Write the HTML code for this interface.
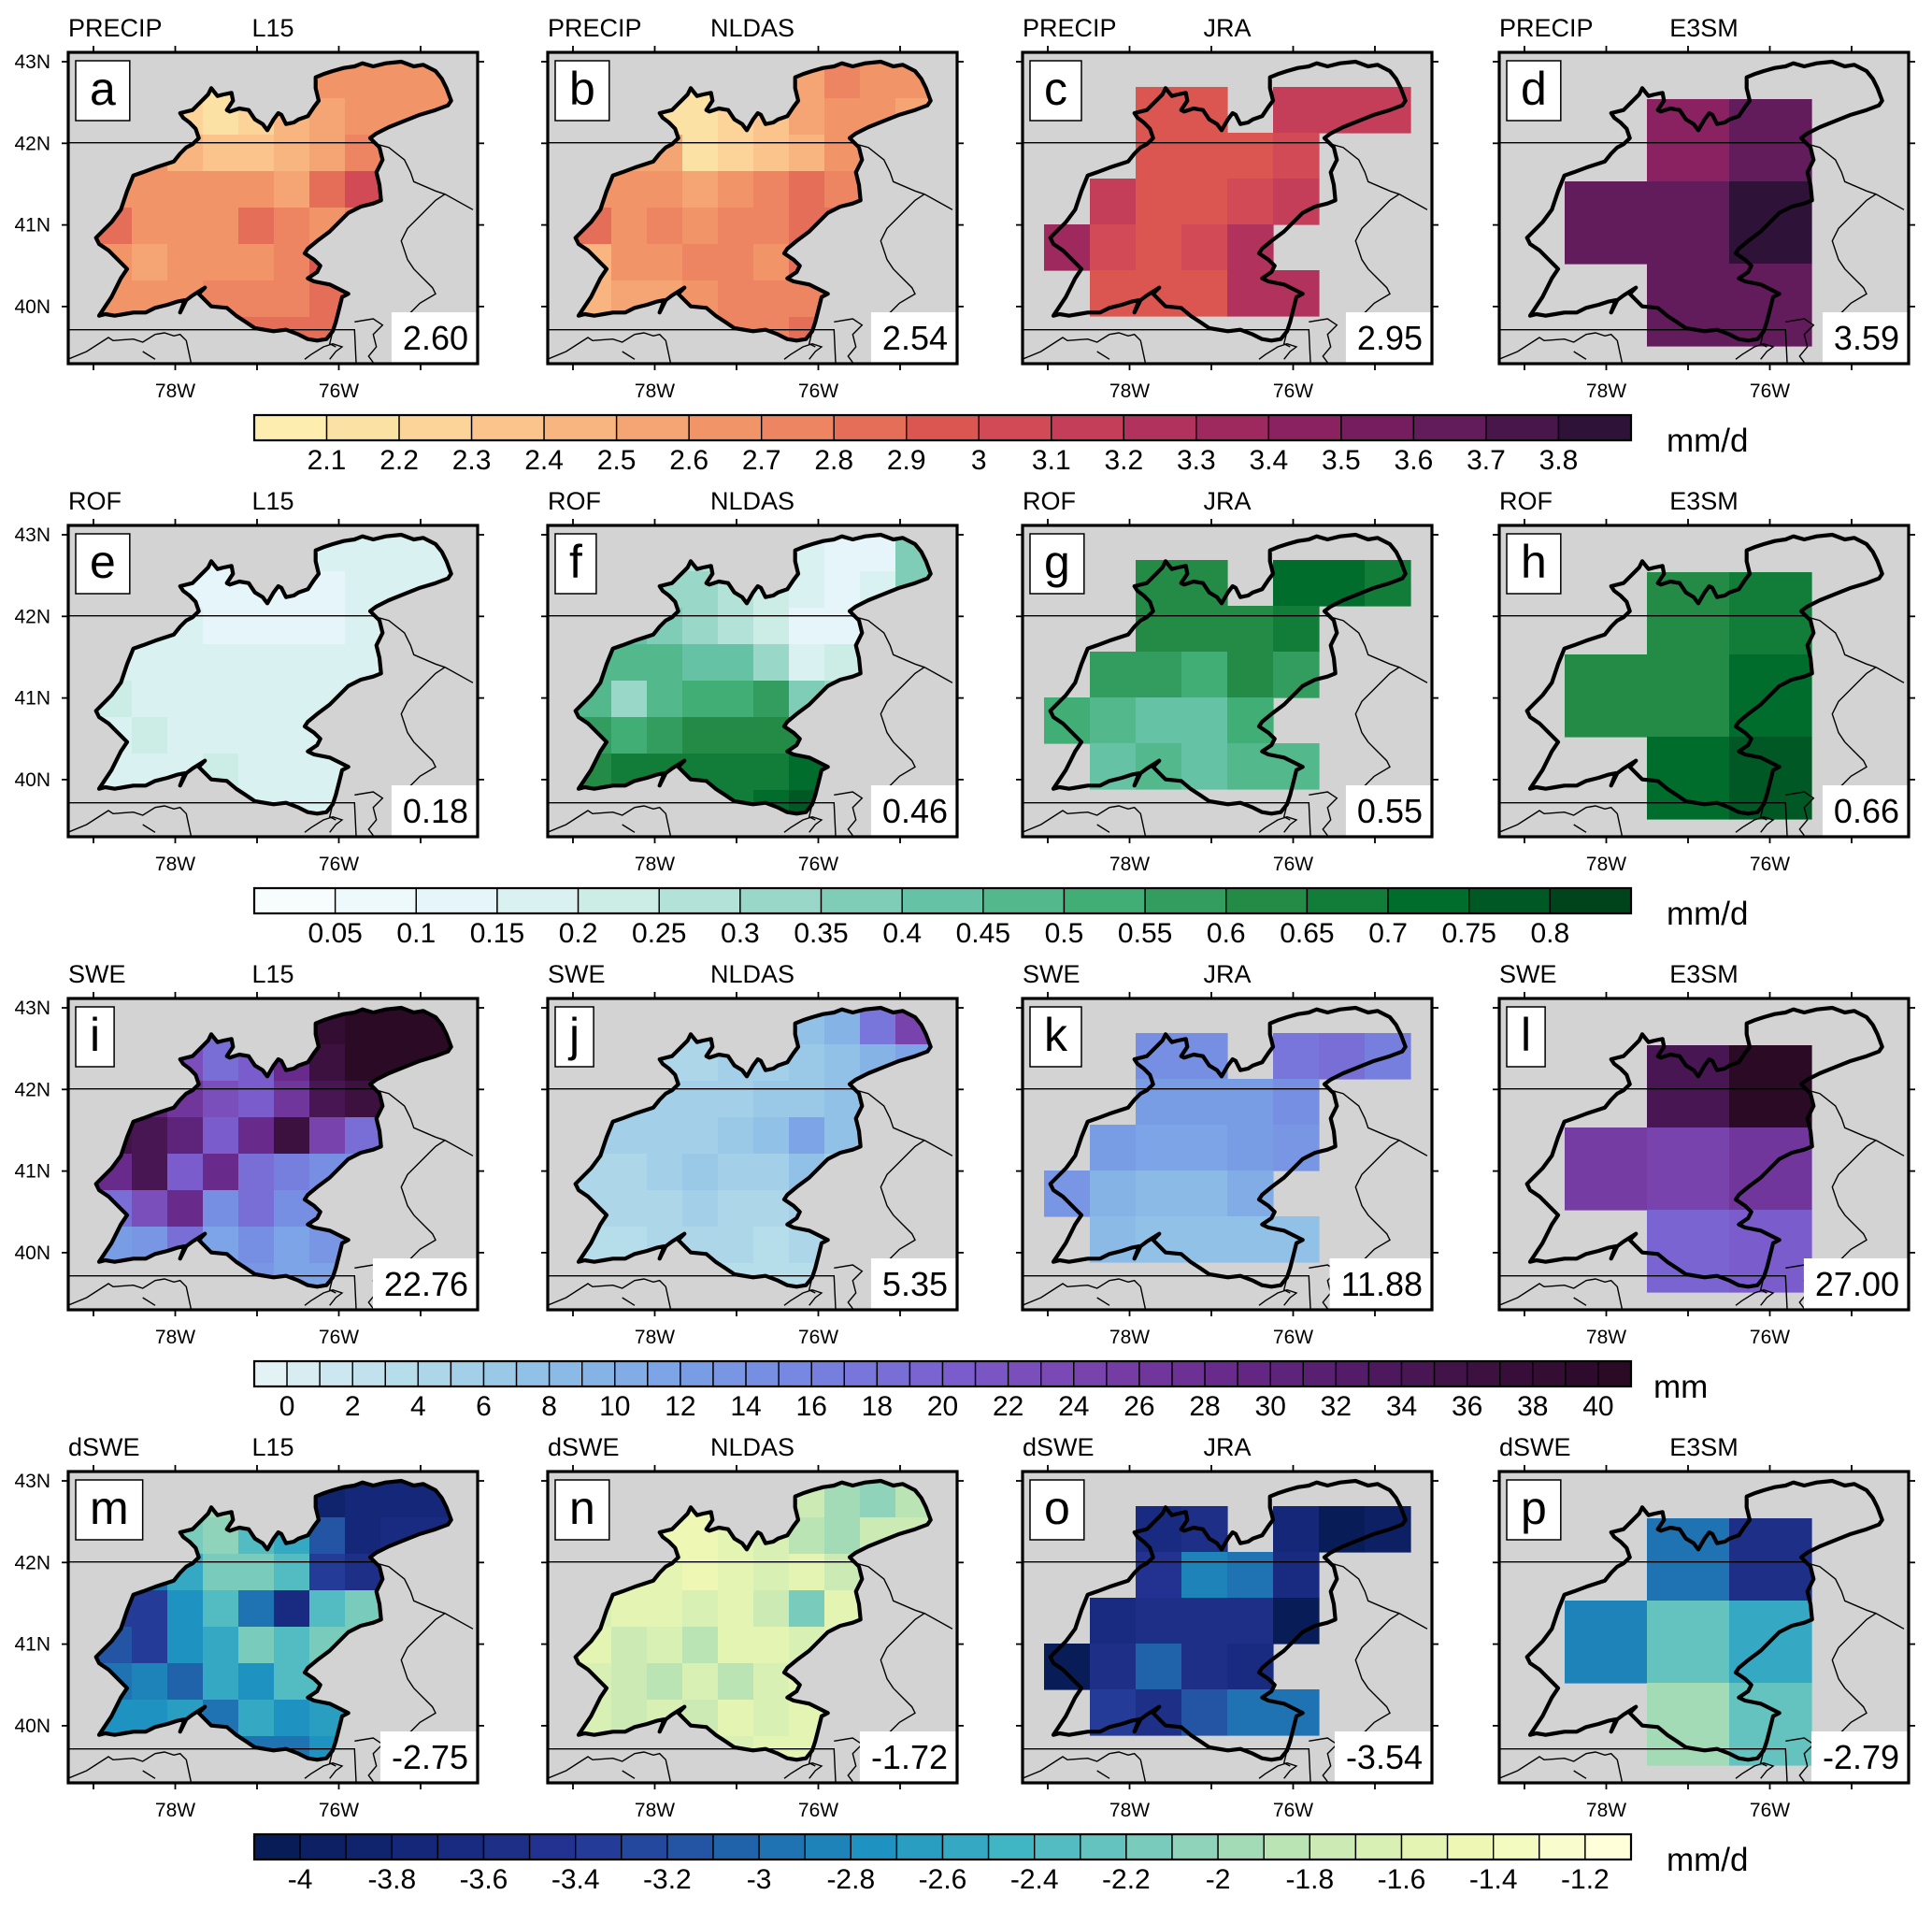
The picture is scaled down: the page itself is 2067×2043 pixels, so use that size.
<!DOCTYPE html>
<html><head><meta charset="utf-8">
<style>
html,body{margin:0;padding:0;background:#fff;}
svg{display:block;font-family:"Liberation Sans",sans-serif;}
</style></head>
<body>
<svg id="chart" width="2067" height="2043" viewBox="0 0 2067 2043" xmlns="http://www.w3.org/2000/svg">
<defs id="defs"></defs>
</svg>
<script>
// ---------- data ----------
const rowVars = ['PRECIP','ROF','SWE','dSWE'];
const panelSources = ['L15','NLDAS','JRA','E3SM'];
const panelLetters = ['a','b','c','d','e','f','g','h','i','j','k','l','m','n','o','p'];
const meanValues = ['2.60','2.54','2.95','3.59','0.18','0.46','0.55','0.66','22.76','5.35','11.88','27.00','-2.75','-1.72','-3.54','-2.79'];
const units = ['mm/d','mm/d','mm','mm/d'];

const precipTicks = [2.1,2.2,2.3,2.4,2.5,2.6,2.7,2.8,2.9,3.0,3.1,3.2,3.3,3.4,3.5,3.6,3.7,3.8];
const precipTickLabels = ['2.1','2.2','2.3','2.4','2.5','2.6','2.7','2.8','2.9','3','3.1','3.2','3.3','3.4','3.5','3.6','3.7','3.8'];
const rofTicks = [0.05,0.1,0.15,0.2,0.25,0.3,0.35,0.4,0.45,0.5,0.55,0.6,0.65,0.7,0.75,0.8];
const rofTickLabels = ['0.05','0.1','0.15','0.2','0.25','0.3','0.35','0.4','0.45','0.5','0.55','0.6','0.65','0.7','0.75','0.8'];
const sweTicks = [0,2,4,6,8,10,12,14,16,18,20,22,24,26,28,30,32,34,36,38,40];
const sweTickLabels = ['0','2','4','6','8','10','12','14','16','18','20','22','24','26','28','30','32','34','36','38','40'];
const dsweTicks = [-4,-3.8,-3.6,-3.4,-3.2,-3,-2.8,-2.6,-2.4,-2.2,-2,-1.8,-1.6,-1.4,-1.2];
const dsweTickLabels = ['-4','-3.8','-3.6','-3.4','-3.2','-3','-2.8','-2.6','-2.4','-2.2','-2','-1.8','-1.6','-1.4','-1.2'];

const precipL15 = [
[2.6,2.6,2.2,2.1,2.2,2.5,2.6,2.6,2.6,2.6],
[2.6,2.6,2.2,2.1,2.2,2.4,2.5,2.6,2.6,2.6],
[2.6,2.6,2.4,2.3,2.3,2.4,2.5,2.7,2.7,2.6],
[2.6,2.6,2.6,2.6,2.6,2.5,2.8,3.0,2.7,2.6],
[2.8,2.6,2.6,2.6,2.8,2.7,2.6,2.7,2.6,2.6],
[2.6,2.5,2.6,2.6,2.6,2.7,2.9,2.8,2.7,2.6],
[2.6,2.6,2.6,2.7,2.7,2.7,2.8,2.7,2.7,2.6],
[2.6,2.6,2.7,2.7,2.8,2.8,2.8,2.8,2.6,2.6]];
const precipNLDAS = [
[2.5,2.5,2.2,2.1,2.2,2.4,2.5,2.7,2.6,2.6],
[2.5,2.5,2.1,2.1,2.2,2.3,2.5,2.6,2.6,2.5],
[2.5,2.5,2.5,2.1,2.2,2.3,2.4,2.6,2.6,2.6],
[2.6,2.6,2.6,2.5,2.6,2.7,2.8,2.7,2.6,2.6],
[2.8,2.6,2.7,2.6,2.7,2.7,2.8,2.8,2.6,2.6],
[2.4,2.6,2.6,2.7,2.7,2.6,2.8,2.7,2.6,2.6],
[2.4,2.5,2.5,2.6,2.7,2.7,2.7,2.7,2.6,2.6],
[2.5,2.5,2.6,2.7,2.7,2.7,2.8,2.8,2.6,2.6]];
const precipJRA = [
[null,null,2.9,2.9,null,3.1,3.1,3.1],
[null,null,2.9,2.9,2.9,3.0,null,null],
[null,3.1,2.9,2.9,3.0,3.1,null,null],
[3.3,3.0,2.9,3.0,3.2,null,null,null],
[null,2.9,2.9,2.9,3.2,3.2,null,null]];
const precipE3SM = [
[null,3.4,3.6],
[3.6,3.65,3.8],
[null,3.6,3.65]];

const rofL15 = [
[.1,.1,.15,.1,.1,.1,.15,.15,.15,.15],
[.15,.15,.1,.1,.1,.1,.1,.15,.15,.15],
[.15,.15,.15,.1,.1,.1,.1,.15,.15,.15],
[.15,.15,.15,.15,.15,.15,.15,.15,.15,.15],
[.2,.15,.15,.15,.15,.15,.15,.15,.15,.15],
[.15,.2,.15,.15,.15,.15,.15,.15,.15,.15],
[.15,.15,.15,.2,.15,.15,.15,.15,.15,.15],
[.15,.15,.15,.15,.15,.15,.15,.15,.15,.15]];
const rofNLDAS = [
[.3,.3,.3,.25,.2,.25,.15,.1,.1,.35],
[.3,.3,.3,.3,.25,.2,.15,.1,.15,.35],
[.4,.4,.35,.3,.25,.2,.1,.1,.2,.3],
[.45,.45,.45,.4,.4,.3,.15,.2,.3,.3],
[.45,.3,.45,.5,.5,.55,.35,.3,.3,.3],
[.55,.5,.55,.6,.6,.6,.6,.5,.5,.5],
[.6,.65,.65,.65,.65,.65,.7,.75,.7,.7],
[.65,.65,.65,.65,.65,.7,.75,.8,.8,.8]];
const rofJRA = [
[null,null,.6,.6,null,.7,.7,.65],
[null,null,.6,.6,.6,.65,null,null],
[null,.55,.55,.5,.6,.55,null,null],
[.5,.45,.4,.4,.5,null,null,null],
[null,.4,.45,.4,.45,.45,null,null]];
const rofE3SM = [
[null,.6,.65],
[.6,.6,.7],
[null,.7,.75]];

const sweL15 = [
[20,20,25,18,20,30,38,40,40,40],
[25,25,22,18,20,28,36,40,40,40],
[30,30,26,22,20,26,34,36,30,30],
[35,34,30,20,28,36,24,18,18,18],
[28,34,20,28,18,16,14,14,14,14],
[18,22,28,14,18,14,14,14,14,14],
[12,13,18,11,14,11,13,13,13,13],
[11,11,11,11,13,11,11,11,11,11]];
const sweNLDAS = [
[4,4,4,4,4,5,7,9,17,24],
[4,4,4,4,5,5,6,7,9,11],
[5,5,5,5,5,6,6,7,7,7],
[5,5,5,5,6,7,11,7,7,7],
[4,4,5,6,5,5,7,5,5,5],
[4,4,4,5,4,4,5,5,5,5],
[3,3,4,4,4,3,4,4,4,4],
[3,3,3,3,3,3,3,3,3,3]];
const sweJRA = [
[null,null,14,14,null,17,18,16],
[null,null,12,12,12,14,null,null],
[null,12,11,11,12,13,null,null],
[13,9,8,8,10,null,null,null],
[null,8,7,7,7,7,null,null]];
const sweE3SM = [
[null,34,40],
[25,24,26],
[null,19,20]];

const dsweL15 = [
[-2.2,-2.2,-2.1,-2.0,-2.4,-2.8,-3.9,-3.8,-3.8,-3.8],
[-2.6,-2.6,-2.2,-2.1,-2.4,-2.6,-3.2,-3.8,-3.7,-3.7],
[-3.0,-3.0,-2.6,-2.2,-2.2,-2.4,-3.4,-3.6,-3.2,-3.2],
[-3.4,-3.4,-2.8,-2.4,-3.0,-3.7,-2.4,-2.2,-2.2,-2.2],
[-3.2,-3.4,-2.8,-2.6,-2.2,-2.4,-2.2,-2.2,-2.2,-2.2],
[-3.0,-2.9,-3.1,-2.6,-2.8,-2.4,-2.4,-2.4,-2.4,-2.4],
[-2.8,-2.8,-2.7,-3.0,-2.6,-2.8,-2.7,-2.7,-2.7,-2.7],
[-3.0,-2.8,-2.8,-2.9,-3.0,-3.0,-2.8,-2.8,-2.8,-2.8]];
const dsweNLDAS = [
[-1.6,-1.6,-1.5,-1.5,-1.5,-1.6,-1.8,-2.0,-2.1,-1.9],
[-1.6,-1.6,-1.5,-1.5,-1.6,-1.7,-1.9,-2.0,-1.8,-1.8],
[-1.6,-1.6,-1.6,-1.5,-1.6,-1.7,-1.6,-1.8,-1.8,-1.8],
[-1.7,-1.6,-1.6,-1.7,-1.6,-1.8,-2.2,-1.6,-1.6,-1.6],
[-1.6,-1.8,-1.7,-1.9,-1.6,-1.6,-1.7,-1.6,-1.6,-1.6],
[-1.7,-1.8,-1.9,-1.7,-1.9,-1.7,-1.6,-1.6,-1.6,-1.6],
[-1.7,-1.8,-1.7,-1.8,-1.6,-1.7,-1.6,-1.6,-1.6,-1.6],
[-1.7,-1.7,-1.6,-1.7,-1.7,-1.6,-1.6,-1.6,-1.6,-1.6]];
const dsweJRA = [
[null,null,-3.7,-3.6,null,-3.8,-4.1,-4.0],
[null,null,-3.5,-2.9,-3.0,-3.7,null,null],
[null,-3.7,-3.6,-3.6,-3.6,-4.1,null,null],
[-4.1,-3.6,-3.1,-3.6,-3.7,null,null,null],
[null,-3.4,-3.6,-3.2,-3.0,-3.0,null,null]];
const dsweE3SM = [
[null,-3.0,-3.6],
[-2.9,-2.3,-2.6],
[null,-2.0,-2.3]];

// ---------- layout / style ----------
const grids = [
  [precipL15, precipNLDAS, precipJRA, precipE3SM],
  [rofL15, rofNLDAS, rofJRA, rofE3SM],
  [sweL15, sweNLDAS, sweJRA, sweE3SM],
  [dsweL15, dsweNLDAS, dsweJRA, dsweE3SM]];
const rowTicks = [precipTicks, rofTicks, sweTicks, dsweTicks];
const rowTickLabels = [precipTickLabels, rofTickLabels, sweTickLabels, dsweTickLabels];
const scales = [
  {first:2.1, step:0.1, nb:19},
  {first:0.05, step:0.05, nb:17},
  {first:0, step:1, nb:42},
  {first:-4, step:0.1, nb:30}];
const palettes = [
  ['#fdeeb0','#fcd69c','#f9bb84','#f49f6e','#ec8160','#dc5651','#c8405a','#a62c5e','#821f62','#5e1a5a','#2e1238'],
  ['#f7fcfd','#e5f5f9','#ccece6','#99d8c9','#66c2a4','#41ae76','#238b45','#006d2c','#00441b'],
  ['#e3f2f5','#b5dcea','#8fc0e6','#7aa2e6','#7685e0','#7a5fd0','#7a45b0','#6a2c8e','#551c6a','#3c1040','#2a0a25'],
  ['#081d58','#15287a','#253494','#225ea8','#1d91c0','#41b6c4','#7fcdbb','#c7e9b4','#edf8b1','#ffffd9']];

const colLeft = [73, 586, 1094, 1604];
const rowTop = [56, 562, 1068, 1574];
const FW = 438, FH = 333;
const CB_X = 272, CB_W = 1473, CB_H = 27;
const cbTop = [444, 950, 1456, 1962];

const basinZ = [380,210,420,200,470,150,480,130,500,155,520,150,545,145,550,170,530,200,540,205,570,195,600,200,620,230,645,245,660,265,680,230,695,210,705,215,720,245,745,240,760,230,790,220,810,190,825,170,815,130,815,95,840,85,870,75,905,65,940,60,965,50,1000,60,1040,50,1090,45,1130,60,1160,55,1200,75,1220,100,1235,130,1250,170,1240,185,1200,200,1150,215,1100,235,1050,255,1010,275,990,290,1020,320,1030,360,1010,400,1020,440,1025,490,1000,500,960,510,920,530,890,560,860,590,820,620,790,645,780,660,810,680,830,700,820,720,790,740,810,750,860,760,890,775,920,790,900,800,890,840,880,880,870,910,850,935,820,940,790,935,760,920,720,905,680,910,620,900,590,880,560,860,530,835,480,830,450,800,440,790,460,770,420,795,400,810,380,850,395,810,370,815,340,825,300,835,270,850,230,850,200,855,170,860,140,855,120,860,160,800,190,740,210,710,180,680,150,650,120,630,110,610,130,590,160,560,190,520,210,460,230,410,260,400,300,385,330,375,360,365,380,340,400,320,420,310,440,290,430,260,410,240,390,225];
const stateLinesZ = [
  [20,305,995,305,1050,320,1100,360,1120,400,1130,430,1200,460,1230,470,1320,520],
  [1230,470,1200,490,1150,540,1110,580,1090,620,1110,680,1130,710,1160,740,1190,770,1200,790,1150,820,1120,850,1080,870],
  [20,905,940,905,945,1010],
  [940,880,1000,870,1030,890,1000,920,1010,960,985,990,1000,1010],
  [20,1000,80,975,150,930,165,940,230,935,260,945,300,920,330,915,360,925,380,920,400,940,415,1010],
  [260,975,300,1000],
  [780,1000,800,985,840,960,870,950,900,960,880,975,860,1000],
  [870,910,860,950,880,960]];
function zx(x){return x/3-7;}
function zy(y){return y/3-5;}
function ptsFrom(arr){let s=[];for(let i=0;i<arr.length;i+=2){s.push(zx(arr[i]).toFixed(1)+','+zy(arr[i+1]).toFixed(1));}return s.join(' ');}
const basinPts = ptsFrom(basinZ);

function lonX(lon){return 27 + (79 - lon)*87.5;}
function latY(lat){return 10 + (43 - lat)*87.3;}

function hexToRgb(h){return [parseInt(h.substr(1,2),16),parseInt(h.substr(3,2),16),parseInt(h.substr(5,2),16)];}
function palColor(pal,t){
  const n=pal.length-1; const p=Math.max(0,Math.min(1,t))*n; const i=Math.min(n-1,Math.floor(p)); const f=p-i;
  const a=hexToRgb(pal[i]), b=hexToRgb(pal[i+1]);
  return 'rgb('+a.map((v,k)=>Math.round(v+(b[k]-v)*f)).join(',')+')';
}
function boxIndex(r,v){const s=scales[r];return Math.max(0,Math.min(s.nb-1,Math.floor((v-s.first)/s.step+1+1e-6)));}
function valColor(r,v){return palColor(palettes[r], boxIndex(r,v)/(scales[r].nb-1));}
function cbX(r,v){const s=scales[r];return CB_X + ((v-s.first)/s.step+1)*CB_W/s.nb;}

const NS='http://www.w3.org/2000/svg';
const svg=document.getElementById('chart');
const defs=document.getElementById('defs');
function mk(tag,attrs,parent){const e=document.createElementNS(NS,tag);for(const k in attrs)e.setAttribute(k,attrs[k]);(parent||svg).appendChild(e);return e;}

const cp=mk('clipPath',{id:'basinClip'},defs);
mk('polygon',{points:basinPts},cp);
const fc=mk('clipPath',{id:'frameClip'},defs);
mk('rect',{x:0,y:0,width:FW,height:FH},fc);

for(let r=0;r<4;r++){
  for(let c=0;c<4;c++){
    const idx=r*4+c;
    const g=mk('g',{transform:'translate('+colLeft[c]+','+rowTop[r]+')'});
    
    
    const bg=mk('rect',{x:0,y:0,width:FW,height:FH,fill:'#d3d3d3'},g);
    
    
    const grid=grids[r][c];
    let dg, x0, y0, cw, ch;
    if(c<2){dg=mk('g',{'clip-path':'url(#basinClip)'},g);x0=30;y0=10;cw=38;ch=39;}
    else if(c==2){dg=mk('g',{'clip-path':'url(#frameClip)'},g);x0=23;y0=37;cw=49;ch=49;}
    else {dg=mk('g',{'clip-path':'url(#frameClip)'},g);x0=70;y0=50;cw=88;ch=88;}
    
    
    for(let i=0;i<grid.length;i++){
      for(let j=0;j<grid[i].length;j++){
        const v=grid[i][j]; if(v===null) continue;
        const cell=mk('rect',{x:x0+j*cw,y:y0+i*ch,width:cw+0.6,height:ch+0.6,fill:valColor(r,v)},dg);
        
        
      }
    }
    for(const ln of stateLinesZ){
      const sl=mk('polyline',{points:ptsFrom(ln),fill:'none',stroke:'#000','stroke-width':1.4,'clip-path':'url(#frameClip)'},g);
      
      
    }
    const bo=mk('polygon',{points:basinPts,fill:'none',stroke:'#000','stroke-width':4.2,'stroke-linejoin':'round'},g);
    
    
    const lb=mk('rect',{x:8,y:9,width:70,height:64,fill:'#fff',stroke:'#000','stroke-width':1.5},g);
    
    
    const lt=mk('text',{x:22,y:56,'font-size':50,fill:'#000'},g);
    lt.textContent=panelLetters[idx];
    
    
    const lw=lt.getComputedTextLength();
    lb.setAttribute('width',Math.max(40,lw+30));
    lt.setAttribute('x',8+(Math.max(40,lw+30)-lw)/2);
    const vb=mk('rect',{x:340,y:278,width:98,height:55,fill:'#fff'},g);
    
    
    const vt=mk('text',{x:428,y:318,'font-size':36,'text-anchor':'end',fill:'#000'},g);
    vt.textContent=meanValues[idx];
    
    
    const vw=vt.getComputedTextLength();
    vb.setAttribute('x',428-vw-12);
    vb.setAttribute('width',FW-(428-vw-12));
    const fr=mk('rect',{x:0,y:0,width:FW,height:FH,fill:'none',stroke:'#000','stroke-width':3.2},g);
    
    
    for(const lon of [79,78,77,76,75]){
      const x=lonX(lon);
      const t1=mk('line',{x1:x,y1:-7,x2:x,y2:0,stroke:'#000','stroke-width':1.8},g);
      
      
      const t2=mk('line',{x1:x,y1:FH,x2:x,y2:FH+7,stroke:'#000','stroke-width':1.8},g);
      
      
    }
    for(const lat of [43,42,41,40]){
      const y=latY(lat);
      const t1=mk('line',{x1:-7,y1:y,x2:0,y2:y,stroke:'#000','stroke-width':1.8},g);
      
      
      const t2=mk('line',{x1:FW,y1:y,x2:FW+7,y2:y,stroke:'#000','stroke-width':1.8},g);
      
      
      if(c==0){
        const ll=mk('text',{x:-19,y:y+7,'font-size':21,'text-anchor':'end',fill:'#000'},g);
        ll.textContent=lat+'N';
        
        
      }
    }
    for(const lon of [78,76]){
      const tl=mk('text',{x:lonX(lon),y:FH+36,'font-size':21,'text-anchor':'middle',fill:'#000'},g);
      tl.textContent=lon+'W';
      
      
    }
    const tv=mk('text',{x:0,y:-17,'font-size':27,fill:'#000'},g);
    tv.textContent=rowVars[r];
    
    
    const ts=mk('text',{x:FW/2,y:-17,'font-size':27,'text-anchor':'middle',fill:'#000'},g);
    ts.textContent=panelSources[c];
    
    
  }
  const cg=mk('g',{});
  
  
  const s=scales[r];
  const bw=CB_W/s.nb;
  for(let k=0;k<s.nb;k++){
    const b=mk('rect',{x:CB_X+k*bw,y:cbTop[r],width:bw,height:CB_H,fill:palColor(palettes[r],k/(s.nb-1)),stroke:'#000','stroke-width':1.4},cg);
    
    
  }
  const ob=mk('rect',{x:CB_X,y:cbTop[r],width:CB_W,height:CB_H,fill:'none',stroke:'#000','stroke-width':2.2},cg);
  
  
  const ticks=rowTicks[r], labs=rowTickLabels[r];
  for(let k=0;k<ticks.length;k++){
    const t=mk('text',{x:cbX(r,ticks[k]),y:cbTop[r]+58,'font-size':30,'text-anchor':'middle',fill:'#000'},cg);
    t.textContent=labs[k];
    
    
  }
  const u=mk('text',{x:(r==2?1769:1783),y:cbTop[r]+39,'font-size':35,fill:'#000'},cg);
  u.textContent=units[r];
  
  
}
</script>
</body></html>
